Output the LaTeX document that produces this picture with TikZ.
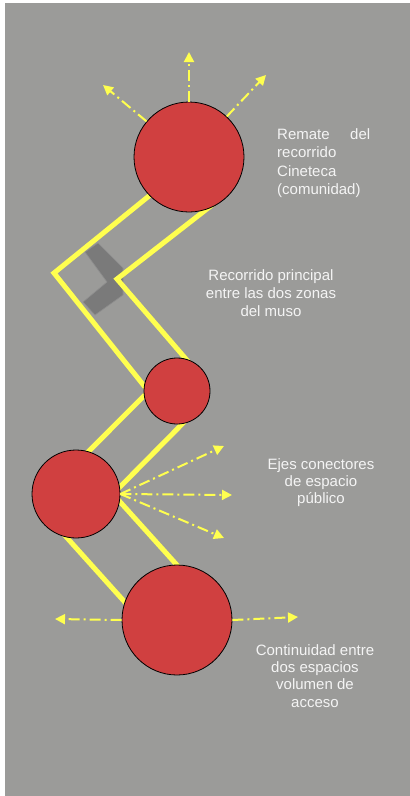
\documentclass[tikz,border=0pt]{standalone}
\usepackage{fontspec}
\setmainfont{Liberation Sans}
\usetikzlibrary{arrows.meta}
\definecolor{bgc}{HTML}{9B9B99}
\definecolor{circc}{HTML}{D04040}
\definecolor{yelc}{HTML}{FFFF4F}
\definecolor{bandc}{HTML}{7A7A7A}
\definecolor{bandedge}{HTML}{8E8E8E}
\definecolor{txtc}{HTML}{F4F4F4}
\pgfdeclarelayer{back}
\pgfsetlayers{back,main}
\tikzset{
  hub/.style={circle, draw=black, line width=0.8pt, fill=circc, inner sep=0pt},
  route/.style={draw=yelc, line width=5pt},
  axis/.style={draw=yelc, line width=2pt, dash pattern=on 11pt off 4pt on 2pt off 4pt,
    -{Triangle[length=10pt,width=10pt]}},
  note/.style={text=txtc, inner sep=0pt, align=center},
}
\begin{document}
\begin{tikzpicture}[x=1pt,y=-1pt]
\useasboundingbox (0,0) rectangle (410,796);
% circles
\node[hub, minimum size=110pt] (c1) at (189,157) {};
\node[hub, minimum size=66pt]  (c2) at (177,391) {};
\node[hub, minimum size=88pt]  (c3) at (76,494) {};
\node[hub, minimum size=110pt] (c4) at (177,620) {};
% route vertices
\coordinate (o1) at (165,183);
\coordinate (o2) at (54,273);
\coordinate (o3) at (148.5,391.4);
\coordinate (o4) at (80,460);
\coordinate (o5) at (60,530);
\coordinate (o6) at (140,619);
\coordinate (i1) at (221,198);
\coordinate (i2) at (117,279);
\coordinate (i3) at (198,373);
\coordinate (i4) at (196,410);
\coordinate (i5) at (113,494);
\coordinate (i6) at (194,584);
\begin{pgfonlayer}{back}
  \fill[white] (0,0) rectangle (410,796);
  \fill[bgc] (5,3) rectangle (410,796);
  \filldraw[fill=bandc, draw=bandedge, line width=0.6pt]
    (85,252) -- (98,243) -- (123,268) -- (123,295) -- (95,315) -- (83,302) -- (107,282) -- cycle;
  \draw[route] (o1) -- (o2) -- (o3) -- (o4);
  \draw[route] (o5) -- (o6);
  \draw[route] (i1) -- (i2) -- (i3);
  \draw[route] (i4) -- (i5) -- (i6);
\end{pgfonlayer}
% arrow ends
\coordinate (e1) at (103,85);
\coordinate (e2) at (189,52);
\coordinate (e3) at (266,75);
\coordinate (e4) at (224,446);
\coordinate (e5) at (232,495);
\coordinate (e6) at (224,538);
\coordinate (e7) at (55,619);
\coordinate (e8) at (298,617);
\draw[axis] (c1.140) -- (e1);
\draw[axis] (c1.north) -- (e2);
\draw[axis] (c1.47) -- (e3);
\draw[axis] (c3.east) -- (e4);
\draw[axis] (c3.east) -- (e5);
\draw[axis] (c3.east) -- (e6);
\draw[axis] (c4.west) -- (e7);
\draw[axis] (c4.east) -- (e8);
% texts
\node[note, anchor=north west, align=left, text width=93pt,
      font=\fontsize{15}{18.3}\selectfont] (t1) at (277,128.6)
  {\hbox to 93pt{Remate\hfill del}\\recorrido\\Cineteca\\(comunidad)};
\node[note, anchor=north, font=\fontsize{15}{17.8}\selectfont] (t2) at (271,269.8)
  {Recorrido principal\\entre las dos zonas\\del muso};
\node[note, anchor=north, font=\fontsize{15}{16.8}\selectfont] (t3) at (321,458.6)
  {Ejes conectores\\de espacio\\público};
\node[note, anchor=north, font=\fontsize{15}{17.4}\selectfont] (t4) at (315,644.1)
  {Continuidad entre\\dos espacios\\volumen de\\acceso};
\end{tikzpicture}
\end{document}
